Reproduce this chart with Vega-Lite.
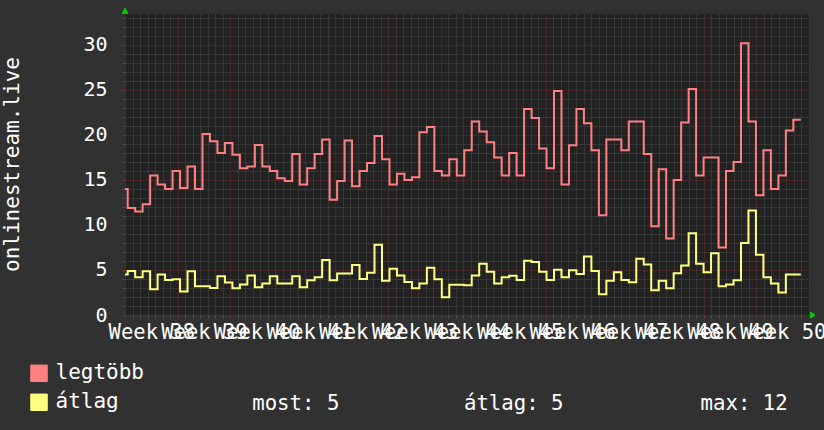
{
  "$schema": "https://vega.github.io/schema/vega-lite/v6.json",
  "width": 684,
  "height": 301,
  "autosize": {"type": "none"},
  "padding": {"left": 125, "top": 14, "right": 15, "bottom": 115},
  "background": "#313131",
  "config": {
    "view": {"fill": "#222222", "stroke": null},
    "font": "DejaVu Sans Mono",
    "axis": {"labelOverlap": false}
  },
  "data": {
    "values": [
      {"t": 0, "legtöbb": 14.0, "átlag": 4.5},
      {"t": 0.36, "legtöbb": 11.9, "átlag": 4.9},
      {"t": 1.355, "legtöbb": 11.5, "átlag": 4.2},
      {"t": 2.35, "legtöbb": 12.3, "átlag": 4.85},
      {"t": 3.345, "legtöbb": 15.5, "átlag": 2.85},
      {"t": 4.34, "legtöbb": 14.5, "átlag": 4.5},
      {"t": 5.335, "legtöbb": 14.0, "átlag": 3.9},
      {"t": 6.33, "legtöbb": 16.0, "átlag": 3.96},
      {"t": 7.325, "legtöbb": 14.1, "átlag": 2.6},
      {"t": 8.32, "legtöbb": 16.5, "átlag": 4.85},
      {"t": 9.315, "legtöbb": 14.0, "átlag": 3.2},
      {"t": 10.31, "legtöbb": 20.1, "átlag": 3.2},
      {"t": 11.305, "legtöbb": 19.3, "átlag": 3.0},
      {"t": 12.3, "legtöbb": 18.0, "átlag": 4.3},
      {"t": 13.295, "legtöbb": 19.1, "átlag": 3.6},
      {"t": 14.29, "legtöbb": 17.8, "átlag": 2.96},
      {"t": 15.285, "legtöbb": 16.3, "átlag": 3.4},
      {"t": 16.28, "legtöbb": 16.5, "átlag": 4.4},
      {"t": 17.275, "legtöbb": 18.9, "átlag": 3.07},
      {"t": 18.27, "legtöbb": 16.5, "átlag": 3.5},
      {"t": 19.265, "legtöbb": 16.0, "átlag": 4.3},
      {"t": 20.26, "legtöbb": 15.2, "átlag": 3.5},
      {"t": 21.255, "legtöbb": 14.9, "átlag": 3.5},
      {"t": 22.25, "legtöbb": 17.9, "átlag": 4.3},
      {"t": 23.245, "legtöbb": 14.5, "átlag": 3.07},
      {"t": 24.24, "legtöbb": 16.3, "átlag": 3.85},
      {"t": 25.235, "legtöbb": 17.9, "átlag": 4.2},
      {"t": 26.23, "legtöbb": 19.5, "átlag": 6.1},
      {"t": 27.225, "legtöbb": 12.8, "átlag": 3.85},
      {"t": 28.22, "legtöbb": 14.9, "átlag": 4.6},
      {"t": 29.215, "legtöbb": 19.4, "átlag": 4.6},
      {"t": 30.21, "legtöbb": 14.3, "átlag": 5.55},
      {"t": 31.205, "legtöbb": 16.0, "átlag": 4.0},
      {"t": 32.2, "legtöbb": 16.9, "átlag": 4.7},
      {"t": 33.195, "legtöbb": 19.9, "átlag": 7.8},
      {"t": 34.19, "legtöbb": 17.3, "átlag": 3.8},
      {"t": 35.185, "legtöbb": 14.5, "átlag": 5.15},
      {"t": 36.18, "legtöbb": 15.7, "átlag": 4.4},
      {"t": 37.175, "legtöbb": 15.0, "átlag": 3.67},
      {"t": 38.17, "legtöbb": 15.3, "átlag": 2.96},
      {"t": 39.165, "legtöbb": 20.3, "átlag": 3.5},
      {"t": 40.16, "legtöbb": 20.9, "átlag": 5.26},
      {"t": 41.155, "legtöbb": 16.0, "átlag": 3.96},
      {"t": 42.15, "legtöbb": 15.5, "átlag": 1.96},
      {"t": 43.145, "legtöbb": 17.3, "átlag": 3.37},
      {"t": 44.14, "legtöbb": 15.5, "átlag": 3.37},
      {"t": 45.135, "legtöbb": 18.3, "átlag": 3.3},
      {"t": 46.13, "legtöbb": 21.5, "átlag": 4.4},
      {"t": 47.125, "legtöbb": 20.4, "átlag": 5.7},
      {"t": 48.12, "legtöbb": 19.2, "átlag": 4.8},
      {"t": 49.115, "legtöbb": 17.5, "átlag": 3.5},
      {"t": 50.11, "legtöbb": 15.5, "átlag": 4.2},
      {"t": 51.105, "legtöbb": 18.0, "átlag": 4.37},
      {"t": 52.1, "legtöbb": 15.5, "átlag": 3.9},
      {"t": 53.095, "legtöbb": 22.9, "átlag": 6.04},
      {"t": 54.09, "legtöbb": 21.9, "átlag": 5.9},
      {"t": 55.085, "legtöbb": 18.5, "átlag": 4.8},
      {"t": 56.08, "legtöbb": 16.3, "átlag": 3.9},
      {"t": 57.075, "legtöbb": 24.9, "átlag": 5.04},
      {"t": 58.07, "legtöbb": 14.5, "átlag": 4.2},
      {"t": 59.065, "legtöbb": 18.85, "átlag": 4.96},
      {"t": 60.06, "legtöbb": 22.9, "átlag": 4.56},
      {"t": 61.055, "legtöbb": 21.3, "átlag": 6.5},
      {"t": 62.05, "legtöbb": 18.3, "átlag": 4.9},
      {"t": 63.045, "legtöbb": 11.07, "átlag": 2.3},
      {"t": 64.04, "legtöbb": 19.5, "átlag": 3.8},
      {"t": 65.035, "legtöbb": 19.5, "átlag": 4.74},
      {"t": 66.03, "legtöbb": 18.3, "átlag": 3.9},
      {"t": 67.025, "legtöbb": 21.5, "átlag": 3.63},
      {"t": 68.02, "legtöbb": 21.5, "átlag": 6.26},
      {"t": 69.015, "legtöbb": 17.9, "átlag": 5.6},
      {"t": 70.01, "legtöbb": 9.85, "átlag": 2.74},
      {"t": 71.005, "legtöbb": 16.2, "átlag": 3.8},
      {"t": 72.0, "legtöbb": 8.5, "átlag": 2.96},
      {"t": 72.995, "legtöbb": 15.0, "átlag": 4.63},
      {"t": 73.99, "legtöbb": 21.4, "átlag": 5.5},
      {"t": 74.985, "legtöbb": 25.1, "átlag": 9.07},
      {"t": 75.98, "legtöbb": 15.5, "átlag": 5.7},
      {"t": 76.975, "legtöbb": 17.5, "átlag": 4.74},
      {"t": 77.97, "legtöbb": 17.5, "átlag": 6.85},
      {"t": 78.965, "legtöbb": 7.5, "átlag": 3.2},
      {"t": 79.96, "legtöbb": 16.0, "átlag": 3.4},
      {"t": 80.955, "legtöbb": 17.0, "átlag": 3.85},
      {"t": 81.95, "legtöbb": 30.2, "átlag": 8.0},
      {"t": 82.945, "legtöbb": 21.5, "átlag": 11.6},
      {"t": 83.94, "legtöbb": 13.3, "átlag": 6.7},
      {"t": 84.935, "legtöbb": 18.3, "átlag": 4.2},
      {"t": 85.93, "legtöbb": 14.0, "átlag": 3.5},
      {"t": 86.925, "legtöbb": 15.5, "átlag": 2.5},
      {"t": 87.92, "legtöbb": 20.5, "átlag": 4.5},
      {"t": 88.915, "legtöbb": 21.7, "átlag": 4.5},
      {"t": 89.91, "legtöbb": 21.7, "átlag": 4.5}
    ]
  },
  "layer": [
    {
      "transform": [{"fold": ["legtöbb", "átlag"], "as": ["series", "value"]}],
      "mark": {"type": "line", "interpolate": "step-after", "strokeWidth": 2},
      "encoding": {
        "x": {
          "field": "t",
          "type": "quantitative",
          "scale": {"domain": [0, 91], "nice": false, "zero": false},
          "axis": {
            "values": [0,1,2,3,3.5,4,5,6,7,8,9,10,10.5,11,12,13,14,15,16,17,17.5,18,19,20,21,22,23,24,24.5,25,26,27,28,29,30,31,31.5,32,33,34,35,36,37,38,38.5,39,40,41,42,43,44,45,45.5,46,47,48,49,50,51,52,52.5,53,54,55,56,57,58,59,59.5,60,61,62,63,64,65,66,66.5,67,68,69,70,71,72,73,73.5,74,75,76,77,78,79,80,80.5,81,82,83,84,85,86,87,87.5,88,89,90,91],
            "tickCount": 500,
            "grid": true,
            "gridDash": [1, 1],
            "gridColor": {"condition": {"test": "datum.value % 7 === 0", "value": "#6b2b2b"}, "value": "#4a4a4a"},
            "gridOpacity": {"condition": {"test": "datum.value % 1 !== 0", "value": 0}, "value": 1},
            "ticks": true,
            "tickSize": 3,
            "tickColor": {"condition": {"test": "datum.value % 7 === 0", "value": "#7a3333"}, "value": "#505050"},
            "tickOpacity": {"condition": {"test": "datum.value % 1 !== 0", "value": 0}, "value": 1},
            "domain": false,
            "labelExpr": "datum.value % 7 === 3.5 ? 'Week ' + (38 + floor(datum.value / 7)) : ''",
            "labelOverlap": false,
            "labelFlush": false,
            "labelBound": false,
            "labelFont": "DejaVu Sans Mono",
            "labelFontSize": 20.5,
            "labelColor": "#ffffff",
            "labelAlign": "center",
            "labelBaseline": "alphabetic",
            "labelPadding": 20.3,
            "title": "most: 5\u00a0\u00a0\u00a0\u00a0\u00a0\u00a0\u00a0\u00a0\u00a0\u00a0átlag: 5\u00a0\u00a0\u00a0\u00a0\u00a0\u00a0\u00a0\u00a0\u00a0\u00a0\u00a0max: 12",
            "titleX": 126.7,
            "titleY": 94,
            "titleAlign": "left",
            "titleBaseline": "alphabetic",
            "titleFont": "DejaVu Sans Mono",
            "titleFontSize": 20.7,
            "titleFontWeight": "normal",
            "titleColor": "#ffffff"
          }
        },
        "y": {
          "field": "value",
          "type": "quantitative",
          "scale": {"domain": [0, 33.444], "nice": false, "zero": true},
          "axis": {
            "values": [0,1,2,3,4,5,6,7,8,9,10,11,12,13,14,15,16,17,18,19,20,21,22,23,24,25,26,27,28,29,30,31,32,33],
            "tickCount": 500,
            "format": "d",
            "grid": true,
            "gridDash": [1, 1],
            "gridColor": {"condition": {"test": "datum.value % 5 === 0", "value": "#6b2b2b"}, "value": "#4a4a4a"},
            "ticks": true,
            "tickSize": 3,
            "tickColor": {"condition": {"test": "datum.value % 5 === 0", "value": "#7a3333"}, "value": "#505050"},
            "domain": false,
            "labelExpr": "datum.value % 5 === 0 ? datum.label : ''",
            "labelOverlap": false,
            "labelFlush": false,
            "labelFont": "DejaVu Sans Mono",
            "labelFontSize": 20,
            "labelColor": "#ffffff",
            "labelPadding": 15,
            "labelBaseline": "middle",
            "title": "onlinestream.live",
            "titleX": -107,
            "titleY": 150,
            "titleAngle": 270,
            "titleAlign": "center",
            "titleBaseline": "alphabetic",
            "titleFont": "DejaVu Sans Mono",
            "titleFontSize": 21,
            "titleFontWeight": "normal",
            "titleColor": "#ffffff"
          }
        },
        "color": {
          "field": "series",
          "type": "nominal",
          "scale": {"domain": ["legtöbb", "átlag"], "range": ["#ff8080", "#ffff80"]},
          "legend": {
            "orient": "none",
            "legendX": -96.5,
            "legendY": 348.8,
            "direction": "vertical",
            "title": null,
            "padding": 0,
            "symbolType": "square",
            "symbolSize": 256,
            "symbolStrokeWidth": 1,
            "symbolStrokeColor": "#000000",
            "labelFont": "DejaVu Sans Mono",
            "labelFontSize": 21,
            "labelColor": "#ffffff",
            "labelOffset": 6,
            "rowPadding": 7,
            "encode": {
              "symbols": {
                "update": {
                  "fill": {"scale": "color", "field": "value"},
                  "stroke": {"value": "#000000"},
                  "fillOpacity": {"value": 1},
                  "opacity": {"value": 1},
                  "shape": {"value": "square"},
                  "size": {"value": 272},
                  "strokeWidth": {"value": 1}
                }
              }
            }
          }
        }
      }
    },
    {
      "mark": {"type": "point", "shape": "triangle-up", "filled": true, "color": "#00c800", "opacity": 1, "size": 30, "clip": false},
      "encoding": {"x": {"datum": 0, "type": "quantitative"}, "y": {"datum": 33.78, "type": "quantitative"}}
    },
    {
      "mark": {"type": "point", "shape": "triangle-right", "filled": true, "color": "#00c800", "opacity": 1, "size": 30, "clip": false},
      "encoding": {"x": {"datum": 91.5, "type": "quantitative"}, "y": {"datum": 0, "type": "quantitative"}}
    }
  ]
}
